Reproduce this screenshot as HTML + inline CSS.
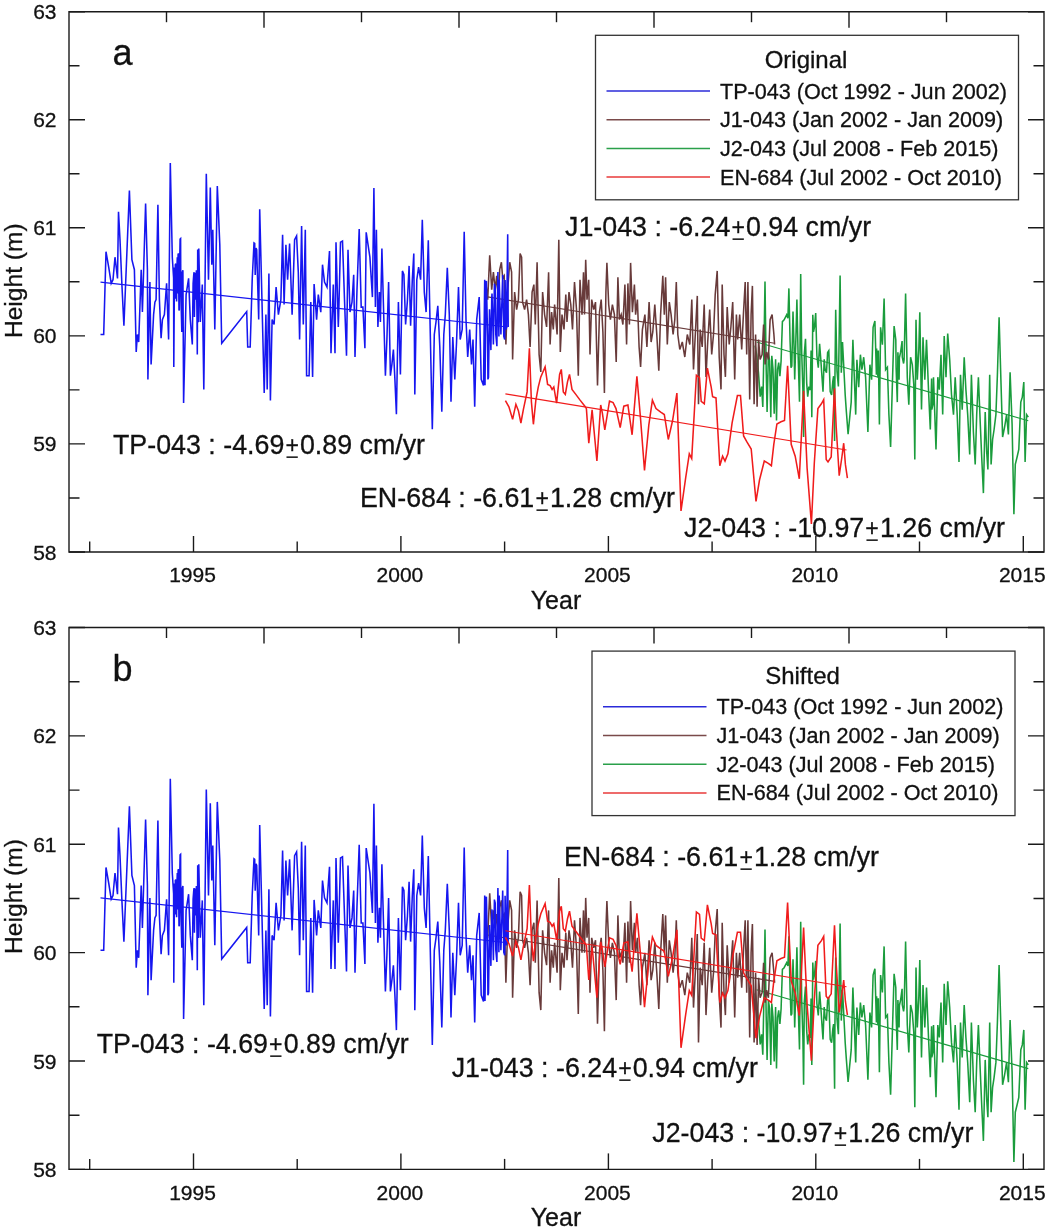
<!DOCTYPE html><html><head><meta charset="utf-8"><style>html,body{margin:0;padding:0;background:#fff;}svg{display:block;will-change:transform;}text{font-family:"Liberation Sans",sans-serif;fill:#111;stroke:#111;stroke-width:0.3px;}</style></head><body>
<svg width="1050" height="1231" viewBox="0 0 1050 1231">
<path d="M69.0,11.7H1044.0V552.0H69.0Z" fill="none" stroke="#1a1a1a" stroke-width="1.4"/>
<path d="M69.0,11.7h16M1044.0,11.7h-16" stroke="#1a1a1a" stroke-width="1.4"/>
<text x="56.5" y="19.2" font-size="21" text-anchor="end">63</text>
<path d="M69.0,65.7h10.5M1044.0,65.7h-10.5" stroke="#1a1a1a" stroke-width="1.4"/>
<path d="M69.0,119.8h16M1044.0,119.8h-16" stroke="#1a1a1a" stroke-width="1.4"/>
<text x="56.5" y="127.3" font-size="21" text-anchor="end">62</text>
<path d="M69.0,173.8h10.5M1044.0,173.8h-10.5" stroke="#1a1a1a" stroke-width="1.4"/>
<path d="M69.0,227.8h16M1044.0,227.8h-16" stroke="#1a1a1a" stroke-width="1.4"/>
<text x="56.5" y="235.3" font-size="21" text-anchor="end">61</text>
<path d="M69.0,281.8h10.5M1044.0,281.8h-10.5" stroke="#1a1a1a" stroke-width="1.4"/>
<path d="M69.0,335.9h16M1044.0,335.9h-16" stroke="#1a1a1a" stroke-width="1.4"/>
<text x="56.5" y="343.4" font-size="21" text-anchor="end">60</text>
<path d="M69.0,389.9h10.5M1044.0,389.9h-10.5" stroke="#1a1a1a" stroke-width="1.4"/>
<path d="M69.0,443.9h16M1044.0,443.9h-16" stroke="#1a1a1a" stroke-width="1.4"/>
<text x="56.5" y="451.4" font-size="21" text-anchor="end">59</text>
<path d="M69.0,498.0h10.5M1044.0,498.0h-10.5" stroke="#1a1a1a" stroke-width="1.4"/>
<path d="M69.0,552.0h16M1044.0,552.0h-16" stroke="#1a1a1a" stroke-width="1.4"/>
<text x="56.5" y="559.5" font-size="21" text-anchor="end">58</text>
<path d="M89.7,552.0v-10.5" stroke="#1a1a1a" stroke-width="1.4"/>
<path d="M193.5,552.0v-16" stroke="#1a1a1a" stroke-width="1.4"/>
<text x="192.5" y="582.2" font-size="21" text-anchor="middle">1995</text>
<path d="M297.2,552.0v-10.5" stroke="#1a1a1a" stroke-width="1.4"/>
<path d="M400.9,552.0v-16" stroke="#1a1a1a" stroke-width="1.4"/>
<text x="399.9" y="582.2" font-size="21" text-anchor="middle">2000</text>
<path d="M504.6,552.0v-10.5" stroke="#1a1a1a" stroke-width="1.4"/>
<path d="M608.4,552.0v-16" stroke="#1a1a1a" stroke-width="1.4"/>
<text x="607.4" y="582.2" font-size="21" text-anchor="middle">2005</text>
<path d="M712.1,552.0v-10.5" stroke="#1a1a1a" stroke-width="1.4"/>
<path d="M815.8,552.0v-16" stroke="#1a1a1a" stroke-width="1.4"/>
<text x="814.8" y="582.2" font-size="21" text-anchor="middle">2010</text>
<path d="M919.5,552.0v-10.5" stroke="#1a1a1a" stroke-width="1.4"/>
<path d="M1023.3,552.0v-16" stroke="#1a1a1a" stroke-width="1.4"/>
<text x="1022.3" y="582.2" font-size="21" text-anchor="middle">2015</text>
<path d="M166.5,11.7v10.5" stroke="#1a1a1a" stroke-width="1.4"/>
<path d="M264.0,11.7v16" stroke="#1a1a1a" stroke-width="1.4"/>
<path d="M361.5,11.7v10.5" stroke="#1a1a1a" stroke-width="1.4"/>
<path d="M459.0,11.7v16" stroke="#1a1a1a" stroke-width="1.4"/>
<path d="M556.5,11.7v10.5" stroke="#1a1a1a" stroke-width="1.4"/>
<path d="M654.0,11.7v16" stroke="#1a1a1a" stroke-width="1.4"/>
<path d="M751.5,11.7v10.5" stroke="#1a1a1a" stroke-width="1.4"/>
<path d="M849.0,11.7v16" stroke="#1a1a1a" stroke-width="1.4"/>
<path d="M946.5,11.7v10.5" stroke="#1a1a1a" stroke-width="1.4"/>
<text x="556" y="609.0" font-size="25" text-anchor="middle">Year</text>
<text transform="translate(22.3,280.7) rotate(-90)" font-size="24.6" text-anchor="middle">Height (m)</text>
<text x="112.5" y="65.2" font-size="36">a</text>
<g transform="translate(0,0)">
<rect x="595.5" y="35.3" width="423" height="164.5" fill="#fff" stroke="#333" stroke-width="1.3"/>
<text x="806" y="68.3" font-size="24" text-anchor="middle">Original</text>
<path d="M606.5,91.0H710" stroke="#2b2bd9" stroke-width="1.5"/>
<text x="720" y="98.5" font-size="21.6">TP-043 (Oct 1992 - Jun 2002)</text>
<path d="M606.5,119.7H710" stroke="#7a4a4a" stroke-width="1.5"/>
<text x="720" y="127.2" font-size="21.6">J1-043 (Jan 2002 - Jan 2009)</text>
<path d="M606.5,148.4H710" stroke="#2aa04a" stroke-width="1.5"/>
<text x="720" y="155.9" font-size="21.6">J2-043 (Jul 2008 - Feb 2015)</text>
<path d="M606.5,177.1H710" stroke="#e83a3a" stroke-width="1.5"/>
<text x="720" y="184.6" font-size="21.6">EN-684 (Jul 2002 - Oct 2010)</text>
</g>
<path d="M69.0,627.5H1044.0V1169.4H69.0Z" fill="none" stroke="#1a1a1a" stroke-width="1.4"/>
<path d="M69.0,627.5h16M1044.0,627.5h-16" stroke="#1a1a1a" stroke-width="1.4"/>
<text x="56.5" y="635.0" font-size="21" text-anchor="end">63</text>
<path d="M69.0,681.7h10.5M1044.0,681.7h-10.5" stroke="#1a1a1a" stroke-width="1.4"/>
<path d="M69.0,735.9h16M1044.0,735.9h-16" stroke="#1a1a1a" stroke-width="1.4"/>
<text x="56.5" y="743.4" font-size="21" text-anchor="end">62</text>
<path d="M69.0,790.1h10.5M1044.0,790.1h-10.5" stroke="#1a1a1a" stroke-width="1.4"/>
<path d="M69.0,844.3h16M1044.0,844.3h-16" stroke="#1a1a1a" stroke-width="1.4"/>
<text x="56.5" y="851.8" font-size="21" text-anchor="end">61</text>
<path d="M69.0,898.5h10.5M1044.0,898.5h-10.5" stroke="#1a1a1a" stroke-width="1.4"/>
<path d="M69.0,952.6h16M1044.0,952.6h-16" stroke="#1a1a1a" stroke-width="1.4"/>
<text x="56.5" y="960.1" font-size="21" text-anchor="end">60</text>
<path d="M69.0,1006.8h10.5M1044.0,1006.8h-10.5" stroke="#1a1a1a" stroke-width="1.4"/>
<path d="M69.0,1061.0h16M1044.0,1061.0h-16" stroke="#1a1a1a" stroke-width="1.4"/>
<text x="56.5" y="1068.5" font-size="21" text-anchor="end">59</text>
<path d="M69.0,1115.2h10.5M1044.0,1115.2h-10.5" stroke="#1a1a1a" stroke-width="1.4"/>
<path d="M69.0,1169.4h16M1044.0,1169.4h-16" stroke="#1a1a1a" stroke-width="1.4"/>
<text x="56.5" y="1176.9" font-size="21" text-anchor="end">58</text>
<path d="M89.7,1169.4v-10.5" stroke="#1a1a1a" stroke-width="1.4"/>
<path d="M193.5,1169.4v-16" stroke="#1a1a1a" stroke-width="1.4"/>
<text x="192.5" y="1199.6" font-size="21" text-anchor="middle">1995</text>
<path d="M297.2,1169.4v-10.5" stroke="#1a1a1a" stroke-width="1.4"/>
<path d="M400.9,1169.4v-16" stroke="#1a1a1a" stroke-width="1.4"/>
<text x="399.9" y="1199.6" font-size="21" text-anchor="middle">2000</text>
<path d="M504.6,1169.4v-10.5" stroke="#1a1a1a" stroke-width="1.4"/>
<path d="M608.4,1169.4v-16" stroke="#1a1a1a" stroke-width="1.4"/>
<text x="607.4" y="1199.6" font-size="21" text-anchor="middle">2005</text>
<path d="M712.1,1169.4v-10.5" stroke="#1a1a1a" stroke-width="1.4"/>
<path d="M815.8,1169.4v-16" stroke="#1a1a1a" stroke-width="1.4"/>
<text x="814.8" y="1199.6" font-size="21" text-anchor="middle">2010</text>
<path d="M919.5,1169.4v-10.5" stroke="#1a1a1a" stroke-width="1.4"/>
<path d="M1023.3,1169.4v-16" stroke="#1a1a1a" stroke-width="1.4"/>
<text x="1022.3" y="1199.6" font-size="21" text-anchor="middle">2015</text>
<path d="M166.5,627.5v10.5" stroke="#1a1a1a" stroke-width="1.4"/>
<path d="M264.0,627.5v16" stroke="#1a1a1a" stroke-width="1.4"/>
<path d="M361.5,627.5v10.5" stroke="#1a1a1a" stroke-width="1.4"/>
<path d="M459.0,627.5v16" stroke="#1a1a1a" stroke-width="1.4"/>
<path d="M556.5,627.5v10.5" stroke="#1a1a1a" stroke-width="1.4"/>
<path d="M654.0,627.5v16" stroke="#1a1a1a" stroke-width="1.4"/>
<path d="M751.5,627.5v10.5" stroke="#1a1a1a" stroke-width="1.4"/>
<path d="M849.0,627.5v16" stroke="#1a1a1a" stroke-width="1.4"/>
<path d="M946.5,627.5v10.5" stroke="#1a1a1a" stroke-width="1.4"/>
<text x="556" y="1226.4" font-size="25" text-anchor="middle">Year</text>
<text transform="translate(22.3,896.5) rotate(-90)" font-size="24.6" text-anchor="middle">Height (m)</text>
<text x="112.5" y="681.0" font-size="36">b</text>
<g transform="translate(-3.5,0)">
<rect x="595.5" y="651.1" width="423" height="164.5" fill="#fff" stroke="#333" stroke-width="1.3"/>
<text x="806" y="684.1" font-size="24" text-anchor="middle">Shifted</text>
<path d="M606.5,706.8H710" stroke="#2b2bd9" stroke-width="1.5"/>
<text x="720" y="714.3" font-size="21.6">TP-043 (Oct 1992 - Jun 2002)</text>
<path d="M606.5,735.5H710" stroke="#7a4a4a" stroke-width="1.5"/>
<text x="720" y="743.0" font-size="21.6">J1-043 (Jan 2002 - Jan 2009)</text>
<path d="M606.5,764.2H710" stroke="#2aa04a" stroke-width="1.5"/>
<text x="720" y="771.7" font-size="21.6">J2-043 (Jul 2008 - Feb 2015)</text>
<path d="M606.5,792.9H710" stroke="#e83a3a" stroke-width="1.5"/>
<text x="720" y="800.4" font-size="21.6">EN-684 (Jul 2002 - Oct 2010)</text>
</g>
<text x="113" y="454" font-size="26.8">TP-043 : -4.69<tspan dx="1.10" dy="-0.6" font-size="23.05">+</tspan><tspan dx="1.10" dy="0.6">0.89 cm/yr</tspan></text><rect x="286.48" y="456.40" width="11.31" height="1.5" fill="#111"/>
<text x="565" y="236" font-size="26.8">J1-043 : -6.24<tspan dx="1.10" dy="-0.6" font-size="23.05">+</tspan><tspan dx="1.10" dy="0.6">0.94 cm/yr</tspan></text><rect x="732.54" y="238.40" width="11.31" height="1.5" fill="#111"/>
<text x="360" y="507" font-size="26.8">EN-684 : -6.61<tspan dx="1.10" dy="-0.6" font-size="23.05">+</tspan><tspan dx="1.10" dy="0.6">1.28 cm/yr</tspan></text><rect x="536.46" y="509.40" width="11.31" height="1.5" fill="#111"/>
<text x="684" y="537" font-size="26.8">J2-043 : -10.97<tspan dx="1.10" dy="-0.6" font-size="23.05">+</tspan><tspan dx="1.10" dy="0.6">1.26 cm/yr</tspan></text><rect x="866.45" y="539.40" width="11.31" height="1.5" fill="#111"/>
<text x="96.7" y="1053" font-size="26.8">TP-043 : -4.69<tspan dx="1.10" dy="-0.6" font-size="23.05">+</tspan><tspan dx="1.10" dy="0.6">0.89 cm/yr</tspan></text><rect x="270.18" y="1055.40" width="11.31" height="1.5" fill="#111"/>
<text x="564" y="866" font-size="26.8">EN-684 : -6.61<tspan dx="1.10" dy="-0.6" font-size="23.05">+</tspan><tspan dx="1.10" dy="0.6">1.28 cm/yr</tspan></text><rect x="740.46" y="868.40" width="11.31" height="1.5" fill="#111"/>
<text x="451.7" y="1077" font-size="26.8">J1-043 : -6.24<tspan dx="1.10" dy="-0.6" font-size="23.05">+</tspan><tspan dx="1.10" dy="0.6">0.94 cm/yr</tspan></text><rect x="619.24" y="1079.40" width="11.31" height="1.5" fill="#111"/>
<text x="652.3" y="1142" font-size="26.8">J2-043 : -10.97<tspan dx="1.10" dy="-0.6" font-size="23.05">+</tspan><tspan dx="1.10" dy="0.6">1.26 cm/yr</tspan></text><rect x="834.75" y="1144.40" width="11.31" height="1.5" fill="#111"/>
<path d="M755.1,345.5 756.8,355.8 758.5,372.8 760.2,396.7 761.6,386.5 762.8,406.9 764.0,345.5 765.0,281.6 766.2,369.4 767.1,412.1 768.4,352.4 769.6,360.9 770.8,417.2 771.8,355.8 773.0,369.4 774.2,413.8 775.6,359.2 776.5,420.6 777.6,369.4 778.7,362.6 779.9,376.2 781.1,360.9 782.4,321.6 784.1,319.9 786.7,314.8 787.9,318.2 788.9,288.4 790.1,342.1 791.0,367.7 791.8,366.0 793.0,311.4 794.0,345.5 794.7,379.6 795.7,345.5 796.9,299.5 798.1,354.1 799.5,401.8 800.7,273.9 801.7,352.4 802.9,389.9 803.6,437.0 804.3,354.1 805.5,338.7 806.7,383.1 807.7,396.7 808.9,386.5 810.1,389.9 811.1,350.6 811.8,417.2 812.8,314.8 813.5,331.9 814.5,326.8 815.7,313.1 816.9,355.8 818.3,367.7 819.6,343.8 820.8,359.2 821.7,372.8 823.0,391.6 824.2,359.2 825.1,369.4 826.5,372.8 827.6,352.4 828.8,350.6 830.2,391.6 831.6,395.0 832.8,381.4 833.6,376.2 834.6,441.0 834.8,389.9 835.7,309.7 837.0,371.1 838.4,386.5 840.1,275.6 841.3,372.8 842.5,342.1 843.9,369.4 845.2,395.0 846.4,412.1 848.1,434.2 851.2,402.1 852.9,339.8 854.4,379.7 855.7,414.6 856.9,359.7 858.7,387.1 860.4,354.7 861.9,369.7 863.7,357.2 865.6,377.2 867.9,432.0 869.9,364.7 871.6,379.7 873.1,327.3 874.9,321.0 876.4,374.7 876.6,348.5 877.9,377.2 878.3,350.4 879.4,424.5 880.6,327.3 882.4,344.7 884.1,298.6 885.6,369.7 887.4,367.2 888.9,414.6 890.6,447.0 892.3,387.1 894.1,326.0 895.8,339.8 896.1,367.2 897.3,402.1 897.9,352.2 899.1,379.7 899.4,357.9 900.6,352.2 902.1,341.0 902.3,357.2 903.6,363.5 904.1,359.7 905.6,293.6 907.3,377.2 908.8,404.6 910.6,357.2 912.3,364.7 913.8,384.6 914.8,459.5 916.0,319.8 917.3,379.7 918.8,349.7 919.8,312.3 921.5,409.6 923.0,337.3 924.8,379.7 926.5,339.8 928.5,389.6 930.3,429.5 931.6,378.4 931.8,409.6 932.9,404.6 933.5,377.2 934.8,414.6 936.0,449.5 937.8,377.2 939.3,389.6 941.0,354.7 942.7,414.6 944.2,336.0 946.0,377.2 947.7,333.5 949.7,359.7 951.5,394.6 953.5,414.6 955.2,377.2 957.2,414.6 959.0,461.9 960.5,374.7 962.2,409.6 964.2,357.2 965.9,389.6 967.7,414.6 969.7,454.5 971.4,374.7 973.4,432.0 975.2,464.4 976.7,414.6 978.4,377.2 980.2,422.0 981.7,457.0 983.4,493.1 985.2,412.1 986.7,452.0 987.9,469.4 989.7,374.7 991.1,464.4 992.6,439.5 994.1,429.5 995.9,414.6 997.4,374.7 999.1,317.3 1000.9,379.7 1002.6,437.0 1004.6,427.0 1006.6,414.6 1008.4,434.5 1010.1,372.2 1012.1,424.5 1013.9,514.3 1015.3,464.4 1017.1,457.0 1018.8,449.5 1020.8,402.1 1022.3,397.1 1023.8,382.1 1025.1,461.9 1026.6,414.6 1028.3,417.1" fill="none" stroke="#1a9c3c" stroke-width="1.55" stroke-linejoin="miter" stroke-miterlimit="4"/>
<path d="M756.6,342.0L1028.3,420.8" stroke="#1a9c3c" stroke-width="1.15"/>
<path d="M485.9,283.4 487.7,299.6 489.7,255.2 491.7,289.6 493.4,272.2 495.2,289.6 496.7,275.9 498.4,299.6 499.7,269.7 501.4,262.2 502.7,278.4 504.2,275.9 505.9,344.5 507.7,289.6 509.7,262.2 511.6,272.2 512.6,359.5 514.6,292.1 516.6,309.6 518.4,299.6 520.1,253.5 521.6,257.2 522.6,302.1 524.6,309.6 526.6,299.6 528.4,314.6 530.1,347.0 532.1,292.1 533.9,284.6 535.3,324.5 537.1,262.2 539.1,354.5 540.8,371.9 542.6,292.1 544.6,314.6 546.6,327.0 548.6,272.2 550.1,344.5 551.6,312.1 553.3,329.5 554.6,304.6 557.1,334.5 558.8,239.8 560.3,352.0 562.0,314.6 564.0,329.5 565.8,294.6 567.0,322.0 569.0,292.1 570.8,304.6 572.5,329.5 574.5,282.1 576.5,309.6 578.3,375.7 580.0,279.7 582.0,314.6 583.5,272.2 584.5,314.6 585.7,259.7 587.0,299.6 588.7,279.7 590.0,354.5 591.7,299.6 593.7,309.6 595.5,302.1 597.5,385.6 599.5,312.1 601.2,299.6 602.9,332.0 604.4,393.1 605.9,292.1 606.9,262.9 608.7,304.6 610.4,319.6 612.4,304.6 614.4,314.6 616.2,361.9 617.9,277.2 619.4,319.6 621.2,314.6 622.9,324.5 624.9,284.6 626.6,344.5 627.9,283.4 629.4,324.5 630.6,262.9 632.4,312.1 634.4,284.6 635.6,314.6 637.4,299.6 639.1,347.0 640.6,366.9 642.4,329.5 644.9,314.6 646.9,347.0 649.1,302.1 651.1,342.0 652.8,332.0 654.8,304.6 656.8,334.5 658.8,370.7 660.6,314.6 662.8,275.9 664.3,314.6 665.6,277.2 667.3,344.5 669.3,302.1 671.1,314.6 673.1,334.5 674.8,319.6 676.3,282.1 677.8,334.5 679.8,349.5 682.3,342.0 684.8,357.0 687.3,334.5 689.8,344.5 691.8,299.6 693.5,369.4 695.3,334.5 697.3,295.9 698.5,404.3 700.2,329.5 702.2,347.0 704.2,304.6 706.0,376.9 707.7,342.0 709.7,309.6 711.7,354.5 713.5,334.5 715.2,294.6 717.2,270.9 719.2,357.0 721.0,389.4 722.2,284.6 724.0,354.5 725.4,376.9 727.2,307.1 729.2,344.5 730.9,327.0 732.7,302.1 734.7,379.4 736.4,314.6 737.7,339.5 739.7,314.6 741.7,349.5 743.4,314.6 745.2,282.1 746.7,354.5 747.9,282.1 749.7,399.4 751.1,314.6 752.4,285.9 754.1,404.3 755.6,334.5 757.1,406.8 758.6,339.5 760.1,359.5 762.1,354.5 763.6,324.5 765.1,364.4 766.6,352.0 768.4,359.5 770.1,319.6 772.1,314.6 773.9,334.5 774.6,344.5" fill="none" stroke="#683a3a" stroke-width="1.55" stroke-linejoin="miter" stroke-miterlimit="4"/>
<path d="M486.0,296.6L774.6,343.2" stroke="#683a3a" stroke-width="1.15"/>
<path d="M100.5,334.5 103.7,334.5 106.0,251.7 108.7,267.2 111.2,283.4 113.0,279.7 115.0,257.2 116.5,269.7 117.5,278.4 118.5,211.8 120.0,239.8 121.9,284.6 123.9,325.8 126.9,252.2 129.4,190.6 131.9,259.7 134.4,269.7 136.2,352.0 137.4,334.5 138.7,342.0 141.2,269.7 142.4,312.1 145.6,203.6 147.4,269.7 147.9,379.4 149.9,282.1 151.1,364.4 153.6,314.6 154.9,302.1 156.1,299.6 157.9,204.8 159.4,299.6 161.1,338.3 162.4,319.6 164.4,314.6 166.6,283.4 168.6,339.5 170.3,162.9 172.3,257.2 173.6,278.0 173.8,366.9 174.5,267.6 175.3,298.8 175.3,264.7 175.8,263.7 176.6,301.4 176.8,272.2 177.3,257.2 177.8,293.6 178.1,254.7 178.4,253.3 179.0,310.5 179.3,309.6 179.5,272.8 180.1,239.0 180.6,238.5 180.8,291.0 181.8,332.0 182.1,272.8 182.9,270.2 183.6,403.1 186.1,294.6 188.6,278.4 190.3,319.6 192.3,344.5 193.1,283.2 193.8,274.1 194.1,272.2 194.4,317.0 195.1,272.8 195.5,299.6 195.7,298.8 196.4,270.2 197.0,317.0 197.3,354.5 197.7,249.4 198.3,322.2 198.8,248.5 200.3,322.0 202.3,284.6 203.8,389.4 206.3,173.7 208.5,279.7 210.3,187.4 211.8,264.7 212.8,229.8 214.8,329.5 217.3,186.1 219.8,244.7 221.7,343.2 246.7,311.6 247.7,347.0 250.2,347.0 252.2,279.7 254.0,243.0 254.7,243.5 255.2,275.0 256.0,248.0 256.7,249.7 258.7,319.6 259.7,209.3 261.7,289.6 264.2,393.1 265.9,314.6 267.2,389.4 268.9,273.4 270.4,400.6 272.1,319.6 274.1,324.5 276.1,287.1 278.4,314.6 280.9,299.6 282.6,234.8 284.1,304.6 285.9,244.7 287.6,279.7 289.6,243.5 292.1,314.6 294.6,239.8 296.6,236.0 298.3,272.2 299.6,339.5 301.6,226.0 303.3,324.5 305.3,229.8 306.6,375.7 309.1,375.7 310.8,302.1 312.6,376.9 314.1,284.1 316.6,319.6 318.3,294.6 320.8,312.1 322.5,264.7 324.5,282.1 327.0,287.1 329.5,251.0 331.0,353.2 333.3,284.6 335.0,353.2 336.0,242.2 338.3,327.0 338.7,314.6 340.5,242.2 342.5,241.0 344.5,299.6 346.5,355.7 348.0,249.7 350.0,312.1 352.0,302.1 353.7,274.7 355.0,357.0 357.0,289.6 359.2,229.0 361.2,307.1 362.9,307.1 364.9,348.2 366.2,232.3 369.9,257.2 372.4,297.1 373.9,187.9 375.4,307.1 376.4,229.8 377.9,327.0 379.4,292.1 380.4,322.0 381.9,248.5 383.7,314.6 385.4,375.7 386.9,339.5 388.6,282.1 390.4,375.7 391.9,364.4 393.4,349.5 394.9,379.4 396.4,414.3 398.4,302.1 400.4,374.4 402.4,270.9 403.9,274.7 405.6,324.5 407.4,300.8 409.1,265.9 410.6,325.8 412.3,279.7 413.8,253.5 414.8,394.4 416.8,279.7 418.6,267.2 420.6,279.7 422.3,219.8 424.3,292.1 426.1,312.1 428.3,240.2 430.3,334.5 432.3,429.3 434.3,334.5 436.0,322.0 437.8,305.8 439.8,347.0 441.8,411.8 443.8,334.5 445.3,314.6 447.3,267.9 449.3,314.6 451.0,401.8 452.8,337.0 454.8,379.4 456.5,343.2 458.5,287.1 460.2,339.5 462.2,329.5 464.2,231.8 466.0,319.6 467.7,357.0 469.7,329.5 471.5,364.4 473.0,339.5 474.7,406.8 476.7,319.6 479.2,297.1 481.2,379.4 483.5,385.6 484.7,279.7 485.0,385.2 486.2,281.9 486.4,280.9 487.6,336.5 487.9,379.4 488.5,377.4 489.5,309.2 489.7,314.6 490.9,350.1 491.7,299.6 492.0,293.6 493.4,344.2 493.4,344.5 494.4,283.8 495.2,287.1 495.8,334.5 496.9,346.2 497.2,319.6 497.9,272.1 498.9,336.5 499.2,279.7 499.9,301.4 500.9,334.5 501.2,324.8 502.6,278.0 502.7,274.7 503.8,336.5 504.7,339.5 505.1,279.9 506.2,329.5 506.5,326.7 507.7,234.3 508.2,327.0" fill="none" stroke="#1616f0" stroke-width="1.55" stroke-linejoin="miter" stroke-miterlimit="4"/>
<path d="M100.5,282.1L507.5,327.0" stroke="#1616f0" stroke-width="1.15"/>
<path d="M505.4,400.6 508.9,406.8 512.6,419.3 515.9,404.3 518.4,410.6 520.9,423.0 523.4,409.3 527.1,391.9 529.4,348.2 531.4,401.8 533.4,424.3 535.8,400.6 538.3,386.9 540.8,376.9 545.1,366.9 547.6,384.4 550.1,385.6 552.1,389.4 553.8,386.9 556.6,403.1 559.6,374.4 561.3,369.4 563.3,391.9 565.3,394.4 567.5,381.9 569.5,374.4 572.0,389.4 575.8,394.4 579.5,399.4 584.5,405.7 586.4,408.6 588.8,443.1 592.1,409.8 596.9,461.0 600.7,405.0 602.4,413.3 604.8,430.0 609.5,401.0 613.1,402.6 616.0,408.6 620.2,427.6 623.8,406.2 627.9,405.0 632.1,434.8 636.9,376.4 640.5,418.1 644.5,470.5 648.8,425.2 652.4,400.2 656.0,408.6 660.7,412.1 664.3,414.5 668.3,439.5 672.6,420.5 676.9,393.1 681.0,511.0 685.7,477.6 689.3,453.8 691.7,458.6 696.4,375.2 699.5,377.6 701.2,401.4 704.3,403.8 707.4,368.1 711.2,387.1 712.6,396.7 716.0,397.9 719.8,465.7 722.6,456.2 725.0,461.0 727.9,453.8 732.1,422.9 737.4,395.5 740.5,395.5 743.6,436.0 746.9,441.9 751.2,449.0 756.0,501.4 759.5,480.0 764.3,461.0 768.3,463.3 771.4,465.7 773.8,444.3 776.9,424.0 781.0,421.7 784.5,420.5 787.6,365.7 791.2,444.3 795.2,456.2 799.3,478.8 803.6,390.7 807.1,468.1 811.4,524.0 814.3,463.3 817.9,408.6 821.4,403.8 823.7,399.6 826.2,459.5 828.0,461.9 831.2,457.0 834.5,388.4 836.2,427.0 839.2,475.7 841.9,457.0 843.7,443.2 845.4,464.4 847.4,478.2" fill="none" stroke="#f01c1c" stroke-width="1.55" stroke-linejoin="miter" stroke-miterlimit="4"/>
<path d="M505.4,393.9L846.5,450.0" stroke="#f01c1c" stroke-width="1.15"/>
<path d="M755.1,993.3 756.8,1003.6 758.5,1020.6 760.2,1044.5 761.6,1034.3 762.8,1054.7 764.0,993.3 765.0,929.4 766.2,1017.2 767.1,1059.9 768.4,1000.2 769.6,1008.7 770.8,1065.0 771.8,1003.6 773.0,1017.2 774.2,1061.6 775.6,1007.0 776.5,1068.4 777.6,1017.2 778.7,1010.4 779.9,1024.0 781.1,1008.7 782.4,969.4 784.1,967.7 786.7,962.6 787.9,966.0 788.9,936.2 790.1,989.9 791.0,1015.5 791.8,1013.8 793.0,959.2 794.0,993.3 794.7,1027.4 795.7,993.3 796.9,947.3 798.1,1001.9 799.5,1049.6 800.7,921.7 801.7,1000.2 802.9,1037.7 803.6,1084.8 804.3,1001.9 805.5,986.5 806.7,1030.9 807.7,1044.5 808.9,1034.3 810.1,1037.7 811.1,998.4 811.8,1065.0 812.8,962.6 813.5,979.7 814.5,974.6 815.7,960.9 816.9,1003.6 818.3,1015.5 819.6,991.6 820.8,1007.0 821.7,1020.6 823.0,1039.4 824.2,1007.0 825.1,1017.2 826.5,1020.6 827.6,1000.2 828.8,998.4 830.2,1039.4 831.6,1042.8 832.8,1029.2 833.6,1024.0 834.6,1088.8 834.8,1037.7 835.7,957.5 837.0,1018.9 838.4,1034.3 840.1,923.4 841.3,1020.6 842.5,989.9 843.9,1017.2 845.2,1042.8 846.4,1059.9 848.1,1082.0 851.2,1049.9 852.9,987.6 854.4,1027.5 855.7,1062.4 856.9,1007.5 858.7,1034.9 860.4,1002.5 861.9,1017.5 863.7,1005.0 865.6,1025.0 867.9,1079.8 869.9,1012.5 871.6,1027.5 873.1,975.1 874.9,968.8 876.4,1022.5 876.6,996.3 877.9,1025.0 878.3,998.2 879.4,1072.3 880.6,975.1 882.4,992.5 884.1,946.4 885.6,1017.5 887.4,1015.0 888.9,1062.4 890.6,1094.8 892.3,1034.9 894.1,973.8 895.8,987.6 896.1,1015.0 897.3,1049.9 897.9,1000.0 899.1,1027.5 899.4,1005.7 900.6,1000.0 902.1,988.8 902.3,1005.0 903.6,1011.3 904.1,1007.5 905.6,941.4 907.3,1025.0 908.8,1052.4 910.6,1005.0 912.3,1012.5 913.8,1032.4 914.8,1107.3 916.0,967.6 917.3,1027.5 918.8,997.5 919.8,960.1 921.5,1057.4 923.0,985.1 924.8,1027.5 926.5,987.6 928.5,1037.4 930.3,1077.3 931.6,1026.2 931.8,1057.4 932.9,1052.4 933.5,1025.0 934.8,1062.4 936.0,1097.3 937.8,1025.0 939.3,1037.4 941.0,1002.5 942.7,1062.4 944.2,983.8 946.0,1025.0 947.7,981.3 949.7,1007.5 951.5,1042.4 953.5,1062.4 955.2,1025.0 957.2,1062.4 959.0,1109.7 960.5,1022.5 962.2,1057.4 964.2,1005.0 965.9,1037.4 967.7,1062.4 969.7,1102.3 971.4,1022.5 973.4,1079.8 975.2,1112.2 976.7,1062.4 978.4,1025.0 980.2,1069.8 981.7,1104.8 983.4,1140.9 985.2,1059.9 986.7,1099.8 987.9,1117.2 989.7,1022.5 991.1,1112.2 992.6,1087.3 994.1,1077.3 995.9,1062.4 997.4,1022.5 999.1,965.1 1000.9,1027.5 1002.6,1084.8 1004.6,1074.8 1006.6,1062.4 1008.4,1082.3 1010.1,1020.0 1012.1,1072.3 1013.9,1162.1 1015.3,1112.2 1017.1,1104.8 1018.8,1097.3 1020.8,1049.9 1022.3,1044.9 1023.8,1029.9 1025.1,1109.7 1026.6,1062.4 1028.3,1064.9" fill="none" stroke="#1a9c3c" stroke-width="1.55" stroke-linejoin="miter" stroke-miterlimit="4"/>
<path d="M756.6,989.8L1028.3,1068.6" stroke="#1a9c3c" stroke-width="1.15"/>
<path d="M485.9,921.6 487.7,937.8 489.7,893.4 491.7,927.8 493.4,910.4 495.2,927.8 496.7,914.1 498.4,937.8 499.7,907.9 501.4,900.4 502.7,916.6 504.2,914.1 505.9,982.7 507.7,927.8 509.7,900.4 511.6,910.4 512.6,997.7 514.6,930.3 516.6,947.8 518.4,937.8 520.1,891.7 521.6,895.4 522.6,940.3 524.6,947.8 526.6,937.8 528.4,952.8 530.1,985.2 532.1,930.3 533.9,922.8 535.3,962.7 537.1,900.4 539.1,992.7 540.8,1010.1 542.6,930.3 544.6,952.8 546.6,965.2 548.6,910.4 550.1,982.7 551.6,950.3 553.3,967.7 554.6,942.8 557.1,972.7 558.8,878.0 560.3,990.2 562.0,952.8 564.0,967.7 565.8,932.8 567.0,960.2 569.0,930.3 570.8,942.8 572.5,967.7 574.5,920.3 576.5,947.8 578.3,1013.9 580.0,917.9 582.0,952.8 583.5,910.4 584.5,952.8 585.7,897.9 587.0,937.8 588.7,917.9 590.0,992.7 591.7,937.8 593.7,947.8 595.5,940.3 597.5,1023.8 599.5,950.3 601.2,937.8 602.9,970.2 604.4,1031.3 605.9,930.3 606.9,901.1 608.7,942.8 610.4,957.8 612.4,942.8 614.4,952.8 616.2,1000.1 617.9,915.4 619.4,957.8 621.2,952.8 622.9,962.7 624.9,922.8 626.6,982.7 627.9,921.6 629.4,962.7 630.6,901.1 632.4,950.3 634.4,922.8 635.6,952.8 637.4,937.8 639.1,985.2 640.6,1005.1 642.4,967.7 644.9,952.8 646.9,985.2 649.1,940.3 651.1,980.2 652.8,970.2 654.8,942.8 656.8,972.7 658.8,1008.9 660.6,952.8 662.8,914.1 664.3,952.8 665.6,915.4 667.3,982.7 669.3,940.3 671.1,952.8 673.1,972.7 674.8,957.8 676.3,920.3 677.8,972.7 679.8,987.7 682.3,980.2 684.8,995.2 687.3,972.7 689.8,982.7 691.8,937.8 693.5,1007.6 695.3,972.7 697.3,934.1 698.5,1042.5 700.2,967.7 702.2,985.2 704.2,942.8 706.0,1015.1 707.7,980.2 709.7,947.8 711.7,992.7 713.5,972.7 715.2,932.8 717.2,909.1 719.2,995.2 721.0,1027.6 722.2,922.8 724.0,992.7 725.4,1015.1 727.2,945.3 729.2,982.7 730.9,965.2 732.7,940.3 734.7,1017.6 736.4,952.8 737.7,977.7 739.7,952.8 741.7,987.7 743.4,952.8 745.2,920.3 746.7,992.7 747.9,920.3 749.7,1037.6 751.1,952.8 752.4,924.1 754.1,1042.5 755.6,972.7 757.1,1045.0 758.6,977.7 760.1,997.7 762.1,992.7 763.6,962.7 765.1,1002.6 766.6,990.2 768.4,997.7 770.1,957.8 772.1,952.8 773.9,972.7 774.6,982.7" fill="none" stroke="#683a3a" stroke-width="1.55" stroke-linejoin="miter" stroke-miterlimit="4"/>
<path d="M486.0,934.8L774.6,981.4" stroke="#683a3a" stroke-width="1.15"/>
<path d="M100.5,950.3 103.7,950.3 106.0,867.5 108.7,883.0 111.2,899.2 113.0,895.5 115.0,873.0 116.5,885.5 117.5,894.2 118.5,827.6 120.0,855.6 121.9,900.4 123.9,941.6 126.9,868.0 129.4,806.4 131.9,875.5 134.4,885.5 136.2,967.8 137.4,950.3 138.7,957.8 141.2,885.5 142.4,927.9 145.6,819.4 147.4,885.5 147.9,995.2 149.9,897.9 151.1,980.2 153.6,930.4 154.9,917.9 156.1,915.4 157.9,820.6 159.4,915.4 161.1,954.1 162.4,935.4 164.4,930.4 166.6,899.2 168.6,955.3 170.3,778.7 172.3,873.0 173.6,893.8 173.8,982.7 174.5,883.4 175.3,914.6 175.3,880.5 175.8,879.5 176.6,917.2 176.8,888.0 177.3,873.0 177.8,909.4 178.1,870.5 178.4,869.1 179.0,926.3 179.3,925.4 179.5,888.6 180.1,854.8 180.6,854.3 180.8,906.8 181.8,947.8 182.1,888.6 182.9,886.0 183.6,1018.9 186.1,910.4 188.6,894.2 190.3,935.4 192.3,960.3 193.1,899.0 193.8,889.9 194.1,888.0 194.4,932.8 195.1,888.6 195.5,915.4 195.7,914.6 196.4,886.0 197.0,932.8 197.3,970.3 197.7,865.2 198.3,938.0 198.8,864.3 200.3,937.8 202.3,900.4 203.8,1005.2 206.3,789.5 208.5,895.5 210.3,803.2 211.8,880.5 212.8,845.6 214.8,945.3 217.3,801.9 219.8,860.5 221.7,959.0 246.7,927.4 247.7,962.8 250.2,962.8 252.2,895.5 254.0,858.8 254.7,859.3 255.2,890.8 256.0,863.8 256.7,865.5 258.7,935.4 259.7,825.1 261.7,905.4 264.2,1008.9 265.9,930.4 267.2,1005.2 268.9,889.2 270.4,1016.4 272.1,935.4 274.1,940.3 276.1,902.9 278.4,930.4 280.9,915.4 282.6,850.6 284.1,920.4 285.9,860.5 287.6,895.5 289.6,859.3 292.1,930.4 294.6,855.6 296.6,851.8 298.3,888.0 299.6,955.3 301.6,841.8 303.3,940.3 305.3,845.6 306.6,991.5 309.1,991.5 310.8,917.9 312.6,992.7 314.1,899.9 316.6,935.4 318.3,910.4 320.8,927.9 322.5,880.5 324.5,897.9 327.0,902.9 329.5,866.8 331.0,969.0 333.3,900.4 335.0,969.0 336.0,858.0 338.3,942.8 338.7,930.4 340.5,858.0 342.5,856.8 344.5,915.4 346.5,971.5 348.0,865.5 350.0,927.9 352.0,917.9 353.7,890.5 355.0,972.8 357.0,905.4 359.2,844.8 361.2,922.9 362.9,922.9 364.9,964.0 366.2,848.1 369.9,873.0 372.4,912.9 373.9,803.7 375.4,922.9 376.4,845.6 377.9,942.8 379.4,907.9 380.4,937.8 381.9,864.3 383.7,930.4 385.4,991.5 386.9,955.3 388.6,897.9 390.4,991.5 391.9,980.2 393.4,965.3 394.9,995.2 396.4,1030.1 398.4,917.9 400.4,990.2 402.4,886.7 403.9,890.5 405.6,940.3 407.4,916.6 409.1,881.7 410.6,941.6 412.3,895.5 413.8,869.3 414.8,1010.2 416.8,895.5 418.6,883.0 420.6,895.5 422.3,835.6 424.3,907.9 426.1,927.9 428.3,856.0 430.3,950.3 432.3,1045.1 434.3,950.3 436.0,937.8 437.8,921.6 439.8,962.8 441.8,1027.6 443.8,950.3 445.3,930.4 447.3,883.7 449.3,930.4 451.0,1017.6 452.8,952.8 454.8,995.2 456.5,959.0 458.5,902.9 460.2,955.3 462.2,945.3 464.2,847.6 466.0,935.4 467.7,972.8 469.7,945.3 471.5,980.2 473.0,955.3 474.7,1022.6 476.7,935.4 479.2,912.9 481.2,995.2 483.5,1001.4 484.7,895.5 485.0,1001.0 486.2,897.7 486.4,896.7 487.6,952.3 487.9,995.2 488.5,993.2 489.5,925.0 489.7,930.4 490.9,965.9 491.7,915.4 492.0,909.4 493.4,960.0 493.4,960.3 494.4,899.6 495.2,902.9 495.8,950.3 496.9,962.0 497.2,935.4 497.9,887.9 498.9,952.3 499.2,895.5 499.9,917.2 500.9,950.3 501.2,940.6 502.6,893.8 502.7,890.5 503.8,952.3 504.7,955.3 505.1,895.7 506.2,945.3 506.5,942.5 507.7,850.1 508.2,942.8" fill="none" stroke="#1616f0" stroke-width="1.55" stroke-linejoin="miter" stroke-miterlimit="4"/>
<path d="M100.5,897.9L507.5,942.8" stroke="#1616f0" stroke-width="1.15"/>
<path d="M505.4,937.4 508.9,943.6 512.6,956.1 515.9,941.1 518.4,947.4 520.9,959.8 523.4,946.1 527.1,928.7 529.4,885.0 531.4,938.6 533.4,961.1 535.8,937.4 538.3,923.7 540.8,913.7 545.1,903.7 547.6,921.2 550.1,922.4 552.1,926.2 553.8,923.7 556.6,939.9 559.6,911.2 561.3,906.2 563.3,928.7 565.3,931.2 567.5,918.7 569.5,911.2 572.0,926.2 575.8,931.2 579.5,936.2 584.5,942.5 586.4,945.4 588.8,979.9 592.1,946.6 596.9,997.8 600.7,941.8 602.4,950.1 604.8,966.8 609.5,937.8 613.1,939.4 616.0,945.4 620.2,964.4 623.8,943.0 627.9,941.8 632.1,971.6 636.9,913.2 640.5,954.9 644.5,1007.3 648.8,962.0 652.4,937.0 656.0,945.4 660.7,948.9 664.3,951.3 668.3,976.3 672.6,957.3 676.9,929.9 681.0,1047.8 685.7,1014.4 689.3,990.6 691.7,995.4 696.4,912.0 699.5,914.4 701.2,938.2 704.3,940.6 707.4,904.9 711.2,923.9 712.6,933.5 716.0,934.7 719.8,1002.5 722.6,993.0 725.0,997.8 727.9,990.6 732.1,959.7 737.4,932.3 740.5,932.3 743.6,972.8 746.9,978.7 751.2,985.8 756.0,1038.2 759.5,1016.8 764.3,997.8 768.3,1000.1 771.4,1002.5 773.8,981.1 776.9,960.8 781.0,958.5 784.5,957.3 787.6,902.5 791.2,981.1 795.2,993.0 799.3,1015.6 803.6,927.5 807.1,1004.9 811.4,1060.8 814.3,1000.1 817.9,945.4 821.4,940.6 823.7,936.4 826.2,996.3 828.0,998.7 831.2,993.8 834.5,925.2 836.2,963.8 839.2,1012.5 841.9,993.8 843.7,980.0 845.4,1001.2 847.4,1015.0" fill="none" stroke="#f01c1c" stroke-width="1.55" stroke-linejoin="miter" stroke-miterlimit="4"/>
<path d="M505.4,930.7L846.5,986.8" stroke="#f01c1c" stroke-width="1.15"/>
</svg></body></html>
